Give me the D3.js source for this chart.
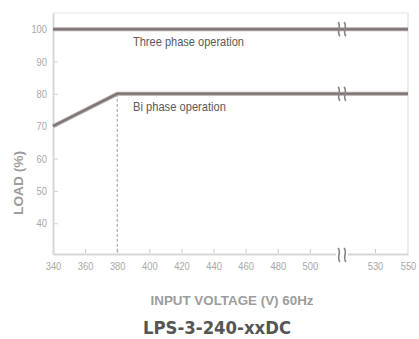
<!DOCTYPE html>
<html>
<head>
<meta charset="utf-8">
<script src="https://cdn.jsdelivr.net/npm/d3@7"></script>
<style>
body{margin:0;background:#fff;}
svg text{font-family:"Liberation Sans",Arial,sans-serif;}
</style>
</head>
<body>
<div id="chart"></div>
<script>
var xTicks=[340,360,380,400,420,440,460,480,500,530,550];
var yTicks=[40,50,60,70,80,90,100];
var threePhaseV=[340,550];
var threePhaseLoad=[100,100];
var biPhaseV=[340,380,550];
var biPhaseLoad=[70,80,80];
var breakV=520;
var kneeV=380;

var width=419, height=339;
var svg=d3.select("#chart").append("svg")
  .attr("width",width).attr("height",height);

// broken axis: 340..520 linear, then compressed 520..550
var XScale=d3.scaleLinear()
  .domain([340,520,530,550])
  .range([53,342,375,408]);
var YScale=d3.scaleLinear()
  .domain([30.5,105])
  .range([254,13]);

// squeeze text to a narrow look
function narrow(sel,ratio){
  sel.each(function(){
    var w=this.getComputedTextLength();
    d3.select(this).attr("textLength",w*ratio).attr("lengthAdjust","spacingAndGlyphs");
  });
}

// frame
svg.append("line").attr("x1",XScale(340)).attr("x2",XScale(550))
  .attr("y1",YScale(105)).attr("y2",YScale(105))
  .attr("stroke","#ececec").attr("stroke-width",1.5);
svg.append("line").attr("x1",XScale(550)).attr("x2",XScale(550))
  .attr("y1",YScale(105)).attr("y2",YScale(30.5))
  .attr("stroke","#e4e4e4").attr("stroke-width",1.5);

var xAxis=d3.axisBottom(XScale).tickValues(xTicks).tickSize(0).tickPadding(8);
var gx=svg.append("g").attr("transform","translate(0,"+YScale(30.5)+")").call(xAxis);
gx.select(".domain").attr("stroke","#d6d6d6").attr("stroke-width",2);
gx.selectAll("text").attr("fill","#a8a8a8").style("font-size","11px")
  .style("font-family","'Liberation Sans',sans-serif").call(narrow,0.85);
gx.selectAll(".tick").filter(function(d){return d!=340 && d!=550;})
  .append("line").attr("y1",-1).attr("y2",-5).attr("stroke","#c8c8c8");

var yAxis=d3.axisLeft(YScale).tickValues(yTicks).tickSize(0).tickPadding(6);
var gy=svg.append("g").attr("transform","translate("+XScale(340)+",0)").call(yAxis);
gy.select(".domain").attr("stroke","#d6d6d6").attr("stroke-width",2);
gy.selectAll("text").attr("fill","#a8a8a8").style("font-size","11px")
  .style("font-family","'Liberation Sans',sans-serif").call(narrow,0.85);
gy.selectAll(".tick").append("line").attr("x1",1).attr("x2",5).attr("stroke","#d0d0d0");

// dashed knee line
svg.append("line")
  .attr("x1",XScale(kneeV)).attr("x2",XScale(kneeV))
  .attr("y1",YScale(80)).attr("y2",YScale(30.5))
  .attr("stroke","#9a9a9a").attr("stroke-width",1)
  .attr("stroke-dasharray","3,2");

var line=d3.line()
  .x(function(d){return XScale(d[0]);})
  .y(function(d){return YScale(d[1]);});

var series=[d3.zip(threePhaseV,threePhaseLoad), d3.zip(biPhaseV,biPhaseLoad)];
series.forEach(function(s){
  svg.append("path").datum(s).attr("d",line)
    .attr("fill","none").attr("stroke","#b0a8a8").attr("stroke-width",4);
  svg.append("path").datum(s).attr("d",line)
    .attr("fill","none").attr("stroke","#7d7373").attr("stroke-width",2);
});

// break marks
function breakMark(cx,cy){
  [-3,3].forEach(function(dx){
    var x=cx+dx;
    svg.append("path")
      .attr("d","M"+(x-1)+","+(cy-7)+" C"+(x+3)+","+(cy-3)+" "+(x-3)+","+(cy+3)+" "+(x+1)+","+(cy+7))
      .attr("fill","none").attr("stroke","#8a8484").attr("stroke-width",1.6);
  });
}
breakMark(XScale(breakV),YScale(100));
breakMark(XScale(breakV),YScale(80));
svg.append("rect").attr("x",XScale(breakV)-6).attr("y",YScale(30.5)-3).attr("width",12).attr("height",6).attr("fill","#fff");
breakMark(XScale(breakV),YScale(30.5)+1);

svg.append("text").attr("x",133).attr("y",YScale(100)+17)
  .text("Three phase operation").attr("fill","#5a5a5a").style("font-size","13px")
  .attr("textLength",111).attr("lengthAdjust","spacingAndGlyphs");
svg.append("text").attr("x",133).attr("y",YScale(80)+17)
  .text("Bi phase operation").attr("fill","#5a5a5a").style("font-size","13px")
  .attr("textLength",93).attr("lengthAdjust","spacingAndGlyphs");

svg.append("text")
  .attr("transform","translate(23,183) rotate(-90)")
  .attr("text-anchor","middle")
  .text("LOAD (%)").attr("fill","#9c9c9c")
  .style("font-size","13px").style("font-weight","bold")
  .attr("textLength",64).attr("lengthAdjust","spacingAndGlyphs");

svg.append("text").attr("x",232).attr("y",305).attr("text-anchor","middle")
  .text("INPUT VOLTAGE (V) 60Hz").attr("fill","#9c9c9c")
  .style("font-size","13.5px").style("font-weight","bold")
  .attr("textLength",163).attr("lengthAdjust","spacingAndGlyphs");

svg.append("text").attr("x",217).attr("y",334).attr("text-anchor","middle")
  .text("LPS-3-240-xxDC").attr("fill","#555")
  .style("font-size","17.5px").style("font-weight","bold")
  .style("font-family","'DejaVu Sans',sans-serif")
  .attr("textLength",148).attr("lengthAdjust","spacingAndGlyphs");
</script>
</body>
</html>
